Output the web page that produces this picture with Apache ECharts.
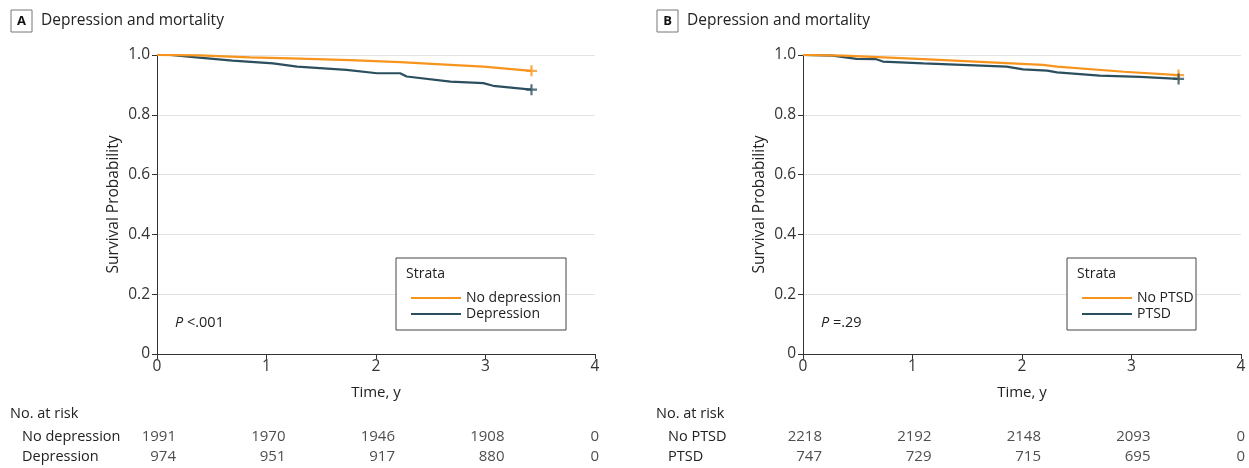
<!DOCTYPE html>
<html><head><meta charset="utf-8">
<script src="https://cdn.jsdelivr.net/npm/echarts@6/dist/echarts.min.js"></script>
<style>html,body{margin:0;padding:0;background:#fff}#c{width:1249px;height:468px}</style>
</head><body><div id="c"></div>
<script>
// ---- data ----
const noDepT = [0, 0.39, 0.85, 1.3, 1.76, 2.22, 2.68, 2.98, 3.42];
const noDepS = [1, 0.999, 0.992, 0.988, 0.983, 0.976, 0.967, 0.961, 0.947];
const depT = [0, 0.12, 0.36, 0.69, 1.06, 1.28, 1.73, 2.01, 2.22, 2.28, 2.68, 2.98, 3.07, 3.42];
const depS = [1, 1.0, 0.992, 0.981, 0.972, 0.961, 0.950, 0.939, 0.939, 0.928, 0.911, 0.906, 0.897, 0.884];
const noPtsdT = [0, 0.37, 1.10, 2.19, 2.32, 2.93, 3.43];
const noPtsdS = [1, 0.998, 0.986, 0.967, 0.961, 0.944, 0.933];
const ptsdT = [0, 0.27, 0.49, 0.67, 0.73, 1.10, 1.86, 2.01, 2.23, 2.32, 2.71, 3.08, 3.43];
const ptsdS = [1, 0.998, 0.987, 0.986, 0.978, 0.972, 0.961, 0.952, 0.948, 0.942, 0.931, 0.927, 0.920];
const riskTimes = [0, 1, 2, 3, 4];
const riskNoDep = [1991, 1970, 1946, 1908, 0];
const riskDep = [974, 951, 917, 880, 0];
const riskNoPtsd = [2218, 2192, 2148, 2093, 0];
const riskPtsd = [747, 729, 715, 695, 0];
const yTicks = [0, 0.2, 0.4, 0.6, 0.8, 1.0];
const xTicks = [0, 1, 2, 3, 4];
const panelTitles = ['Depression and mortality', 'Depression and mortality'];
const panelLetters = ['A', 'B'];
const pTexts = ['<.001', '=.29'];
const namesA = ['No depression', 'Depression'];
const namesB = ['No PTSD', 'PTSD'];

// ---- styling ----
const FONT = 'Open Sans';
const ORANGE = '#F7941D';
const DARK = '#2B4F5E';
const TXT = '#222';
const AX = '#333';
const plus = 'path://M4,0 L6,0 L6,4 L10,4 L10,6 L6,6 L6,10 L4,10 L4,6 L0,6 L0,4 L4,4 Z';

const zip = (t, s) => t.map((v, i) => [v, s[i]]);
const panels = [
  {left: 157, names: namesA, curves: [[noDepT, noDepS], [depT, depS]], risk: [riskNoDep, riskDep]},
  {left: 803, names: namesB, curves: [[noPtsdT, noPtsdS], [ptsdT, ptsdS]], risk: [riskNoPtsd, riskPtsd]}
];
const W = 438;
const grids = [], xAxes = [], yAxes = [], series = [], legends = [], graphics = [];
panels.forEach((p, k) => {
  const gi = grids.length;
  grids.push({left: p.left, width: W, top: 55, height: 299});
  xAxes.push({gridIndex: gi, type: 'value', min: 0, max: 4, interval: 1, name: 'Time, y',
    nameLocation: 'middle', nameGap: 31, nameTextStyle: {fontFamily: FONT, fontSize: 15, color: TXT},
    axisLine: {lineStyle: {color: AX, width: 1}}, axisTick: {length: 5, lineStyle: {color: AX}},
    axisLabel: {fontFamily: FONT, fontSize: 15.5, color: '#333', margin: 5}, splitLine: {show: false}});
  yAxes.push({gridIndex: gi, type: 'value', min: 0, max: 1, interval: 0.2, name: 'Survival Probability',
    nameLocation: 'middle', nameGap: 35, nameTextStyle: {fontFamily: FONT, fontSize: 15.5, color: TXT},
    axisLine: {show: true, lineStyle: {color: AX, width: 1}}, axisTick: {show: true, length: 5, lineStyle: {color: AX}},
    axisLabel: {fontFamily: FONT, fontSize: 15.5, color: '#333', margin: 7,
      formatter: v => v === 0 ? '0' : v.toFixed(1)},
    splitLine: {show: true, lineStyle: {color: '#e3e3e3', width: 1}}});
  const cols = [ORANGE, DARK];
  p.curves.forEach((c, j) => {
    const d = zip(c[0], c[1]);
    series.push({name: p.names[j], type: 'line', xAxisIndex: gi, yAxisIndex: gi, data: d,
      showSymbol: false, symbol: 'none', color: cols[j], lineStyle: {width: 2.2, color: cols[j]}, z: 3 - j + 2, silent: true});
    series.push({type: 'scatter', xAxisIndex: gi, yAxisIndex: gi, data: [d[d.length - 1]],
      symbol: plus, symbolSize: 11, itemStyle: {color: cols[j]}, z: 6, silent: true});
  });
  // risk table grid
  const ri = grids.length;
  grids.push({left: p.left, width: W, top: 427, height: 40});
  xAxes.push({gridIndex: ri, type: 'value', min: 0, max: 4, interval: 1, show: false});
  yAxes.push({gridIndex: ri, type: 'category', inverse: true, data: p.names,
    axisLine: {show: false}, axisTick: {show: false}, splitLine: {show: false},
    axisLabel: {align: 'left', margin: 135, fontFamily: FONT, fontSize: 14.5, color: TXT}});
  p.risk.forEach((arr, j) => {
    series.push({type: 'scatter', xAxisIndex: ri, yAxisIndex: ri, symbolSize: 0, silent: true,
      data: riskTimes.map((t, i) => ({value: [t, j],
        label: {offset: t === 4 ? [4, 0] : [19, 0]}})),
      label: {show: true, position: 'inside', align: 'right', verticalAlign: 'middle',
        fontFamily: FONT, fontSize: 15, color: TXT,
        formatter: pp => String(arr[pp.dataIndex])}});
  });
  // legend
  const bx = p.left + (k === 0 ? 239 : 264);
  const bw = k === 0 ? 170 : 129;
  legends.push({data: p.names, orient: 'vertical', left: bx + 10, top: 286, itemWidth: 50, itemHeight: 2,
    itemGap: 2, icon: 'rect', selectedMode: false,
    textStyle: {fontFamily: FONT, fontSize: 14, color: TXT}});
  graphics.push({type: 'rect', shape: {x: bx, y: 258, width: bw, height: 72},
    style: {fill: '#fff', stroke: '#444', lineWidth: 1}, z: 10});
  graphics.push({type: 'text', x: bx + 10, y: 274, z: 11,
    style: {text: 'Strata', fontFamily: FONT, fontSize: 14, fill: TXT, verticalAlign: 'middle'}});
  // P value
  graphics.push({type: 'text', x: p.left + 18, y: 323, z: 11,
    style: {text: '{i|P} ' + pTexts[k], verticalAlign: 'middle', fontFamily: FONT, fontSize: 14.5, fill: TXT,
      rich: {i: {fontStyle: 'italic', fontFamily: FONT, fontSize: 14.5, fill: TXT}}}});
  // panel header
  const hx = k === 0 ? 11 : 657;
  graphics.push({type: 'rect', shape: {x: hx, y: 10, width: 21, height: 22},
    style: {fill: '#fff', stroke: '#777', lineWidth: 1}});
  graphics.push({type: 'text', x: hx + 10.5, y: 21.5,
    style: {text: panelLetters[k], fontFamily: FONT, fontWeight: 'bold', fontSize: 13, fill: '#111', align: 'center', verticalAlign: 'middle'}});
  graphics.push({type: 'text', x: hx + 30, y: 21,
    style: {text: panelTitles[k], fontFamily: FONT, fontSize: 15.5, fill: TXT, verticalAlign: 'middle'}});
  graphics.push({type: 'text', x: k === 0 ? 10 : 656, y: 414,
    style: {text: 'No. at risk', fontFamily: FONT, fontSize: 14.5, fill: TXT, verticalAlign: 'middle'}});
});
legends.forEach(l => { l.z = 20; });

const chart = echarts.init(document.getElementById('c'), null, {renderer: 'canvas'});
chart.setOption({animation: false, backgroundColor: '#fff', grid: grids, xAxis: xAxes, yAxis: yAxes,
  series: series, legend: legends, graphic: graphics});
</script></body></html>
